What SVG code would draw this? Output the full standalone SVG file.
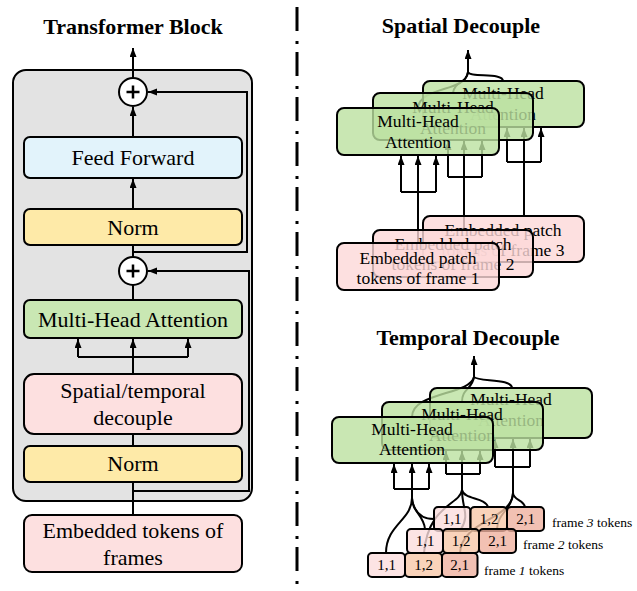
<svg xmlns="http://www.w3.org/2000/svg" width="637" height="591" viewBox="0 0 637 591">
<defs>
<marker id="ah" markerUnits="userSpaceOnUse" markerWidth="10" markerHeight="8" refX="9" refY="3.5" orient="auto">
<path d="M0,0 L9,3.5 L0,7 z" fill="#000"/>
</marker>
<style>
text{font-family:"Liberation Serif","Times New Roman",serif;fill:#000;text-anchor:middle}
.title{font-size:22px;font-weight:bold}
.lt{font-size:22px}
.rt{font-size:17.5px}
.ct{font-size:15px}
.fl{font-size:13.5px;text-anchor:start}
.box{stroke:#000;stroke-width:2}
.blue{fill:#e2f3fb}
.yel{fill:#feeaa8}
.grn{fill:#c9e7b3}
.pnk{fill:#fde0e0}
.tgrn{fill:#bce1a0;fill-opacity:0.8}
.tpnk{fill:#fcd8d8;fill-opacity:0.8}
.c11{fill:#fbdddd;fill-opacity:0.8}
.c12{fill:#f8c8a9;fill-opacity:0.8}
.c21{fill:#efb2a0;fill-opacity:0.8}
.ln{fill:none;stroke:#000;stroke-width:2}
.arr{fill:none;stroke:#000;stroke-width:2;marker-end:url(#ah)}
</style>
</defs>
<rect width="637" height="591" fill="#fff"/>

<g id="titles">
<text class="title" x="133" y="34">Transformer Block</text>
<text class="title" x="461" y="33">Spatial Decouple</text>
<text class="title" x="468" y="345">Temporal Decouple</text>
</g>

<g id="divider">
<line x1="297" y1="7" x2="297" y2="586" stroke="#000" stroke-width="3" stroke-dasharray="24 10 3 8"/>
</g>

<g id="transformer-block">
<rect x="13" y="70" width="239" height="431" rx="13" fill="#e3e3e3" stroke="#000" stroke-width="2"/>
</g>

<g id="connectors">
<!-- left panel -->
<path class="arr" d="M133,78 V48"/>
<path class="arr" d="M133,137 V107"/>
<path class="arr" d="M133,209 V179"/>
<path class="ln" d="M133,257 V245"/>
<path class="arr" d="M133,252 H247 V92 H148"/>
<path class="ln" d="M133,300 V285"/>
<path class="arr" d="M133,491 H249 V271 H148"/>
<path class="ln" d="M78,357 H188"/>
<path class="arr" d="M78,357 V339"/>
<path class="arr" d="M133,374 V339"/>
<path class="arr" d="M188,357 V339"/>
<path class="ln" d="M133,434 V446"/>
<path class="ln" d="M133,482 V515"/>

<!-- spatial decouple -->
<path class="arr" d="M468,72 V50"/>
<path class="ln" d="M418,108 C420,86 466,92 468,72"/>
<path class="ln" d="M453,93 C455,80 466,85 468,72"/>
<path class="ln" d="M503,81 C503,72 470,78 468,72"/>
<path class="ln" d="M401,192 H436"/>
<path class="arr" d="M401,192 V156"/>
<path class="arr" d="M418,243 V156"/>
<path class="arr" d="M436,192 V156"/>
<path class="ln" d="M448,177 H482"/>
<path class="arr" d="M448,177 V141"/>
<path class="arr" d="M464,230 V141"/>
<path class="arr" d="M482,177 V141"/>
<path class="ln" d="M507,162 H541"/>
<path class="arr" d="M507,162 V128"/>
<path class="arr" d="M524,216 V128"/>
<path class="arr" d="M541,162 V128"/>

<!-- temporal decouple -->
<path class="arr" d="M474,377 V356"/>
<path class="ln" d="M412,417 C412,392 470,395 474,377"/>
<path class="ln" d="M462,402 C462,388 472,390 474,377"/>
<path class="ln" d="M512,388 C512,378 478,382 474,377"/>
<path class="ln" d="M394,489 H429"/>
<path class="arr" d="M394,489 V464"/>
<path class="arr" d="M412,498 V464"/>
<path class="arr" d="M429,489 V464"/>
<path class="ln" d="M446,474 H480"/>
<path class="arr" d="M446,474 V451"/>
<path class="arr" d="M462,490 V451"/>
<path class="arr" d="M480,474 V451"/>
<path class="ln" d="M495,467 H530"/>
<path class="arr" d="M495,467 V439"/>
<path class="arr" d="M513,493 V439"/>
<path class="arr" d="M530,467 V439"/>
<!-- token links -->
<path class="ln" d="M412,498 C412,520 386,525 386,553"/>
<path class="ln" d="M412,498 C412,512 424,515 425,529"/>
<path class="ln" d="M412,498 C414,515 425,519 434,519"/>
<path class="ln" d="M462,490 C460,505 428,505 424,553"/>
<path class="ln" d="M462,490 C462,508 470,515 461,529"/>
<path class="ln" d="M462,490 C464,500 485,497 488,507"/>
<path class="ln" d="M513,493 C513,500 524,500 525,507"/>
<path class="ln" d="M513,493 C512,510 498,512 497,529"/>
<path class="ln" d="M513,493 C512,520 462,520 460,553"/>
</g>

<!-- left panel nodes -->
<g id="add-top">
<circle cx="133" cy="92" r="14" fill="#fff" stroke="#000" stroke-width="2"/>
<path d="M126.5,92 H139.5 M133,85.5 V98.5" stroke="#000" stroke-width="2.5"/>
</g>
<g id="feed-forward">
<rect class="box blue" x="24" y="137" width="218" height="41" rx="6"/>
<text class="lt" x="133" y="165">Feed Forward</text>
</g>
<g id="norm-top">
<rect class="box yel" x="24" y="209" width="218" height="36" rx="6"/>
<text class="lt" x="133" y="235">Norm</text>
</g>
<g id="add-mid">
<circle cx="133" cy="271" r="14" fill="#fff" stroke="#000" stroke-width="2"/>
<path d="M126.5,271 H139.5 M133,264.5 V277.5" stroke="#000" stroke-width="2.5"/>
</g>
<g id="mha-left">
<rect class="box grn" x="24" y="300" width="218" height="38" rx="6"/>
<text class="lt" x="133" y="327">Multi-Head Attention</text>
</g>
<g id="decouple">
<rect class="box pnk" x="24" y="374" width="218" height="60" rx="10"/>
<text class="lt" x="133" y="398">Spatial/temporal</text>
<text class="lt" x="133" y="425">decouple</text>
</g>
<g id="norm-bottom">
<rect class="box yel" x="24" y="446" width="218" height="36" rx="6"/>
<text class="lt" x="133" y="471">Norm</text>
</g>
<g id="embedded-tokens">
<rect class="box pnk" x="24" y="515" width="218" height="57" rx="8"/>
<text class="lt" x="133" y="538">Embedded tokens of</text>
<text class="lt" x="133" y="565">frames</text>
</g>

<!-- spatial decouple nodes -->
<g id="s-mha-3">
<rect class="box tgrn" x="423" y="81" width="161" height="46" rx="7"/>
<text class="rt" x="503" y="99">Multi-Head</text>
<text class="rt" x="503" y="120">Attention</text>
</g>
<g id="s-mha-2">
<rect class="box tgrn" x="373" y="93" width="160" height="47" rx="7"/>
<text class="rt" x="453" y="113">Multi-Head</text>
<text class="rt" x="453" y="134">Attention</text>
</g>
<g id="s-mha-1">
<rect class="box tgrn" x="337" y="108" width="162" height="47" rx="7"/>
<text class="rt" x="418" y="127">Multi-Head</text>
<text class="rt" x="418" y="148">Attention</text>
</g>
<g id="s-patch-3">
<rect class="box tpnk" x="423" y="216" width="161" height="46" rx="7"/>
<text class="rt" x="503" y="236">Embedded patch</text>
<text class="rt" x="503" y="256">tokens of frame 3</text>
</g>
<g id="s-patch-2">
<rect class="box tpnk" x="373" y="230" width="160" height="47" rx="7"/>
<text class="rt" x="453" y="250">Embedded patch</text>
<text class="rt" x="453" y="270">tokens of frame 2</text>
</g>
<g id="s-patch-1">
<rect class="box tpnk" x="337" y="243" width="162" height="47" rx="7"/>
<text class="rt" x="418" y="264">Embedded patch</text>
<text class="rt" x="418" y="284">tokens of frame 1</text>
</g>

<!-- temporal decouple nodes -->
<g id="t-mha-3">
<rect class="box tgrn" x="430" y="388" width="162" height="50" rx="7"/>
<text class="rt" x="511" y="405">Multi-Head</text>
<text class="rt" x="511" y="426">Attention</text>
</g>
<g id="t-mha-2">
<rect class="box tgrn" x="382" y="402" width="161" height="48" rx="7"/>
<text class="rt" x="462" y="420">Multi-Head</text>
<text class="rt" x="462" y="441">Attention</text>
</g>
<g id="t-mha-1">
<rect class="box tgrn" x="332" y="417" width="161" height="46" rx="7"/>
<text class="rt" x="412" y="435">Multi-Head</text>
<text class="rt" x="412" y="455">Attention</text>
</g>

<g id="frame3-tokens">
<rect class="box c11" x="434" y="507" width="36.5" height="24" rx="4"/>
<rect class="box c12" x="470.5" y="507" width="36.5" height="24" rx="4"/>
<rect class="box c21" x="507" y="507" width="37" height="24" rx="4"/>
<text class="ct" x="452" y="524">1,1</text>
<text class="ct" x="489" y="524">1,2</text>
<text class="ct" x="525.5" y="524">2,1</text>
<text class="fl" x="552" y="527">frame <tspan font-style="italic">3</tspan> tokens</text>
</g>
<g id="frame2-tokens">
<rect class="box c11" x="407" y="529" width="36" height="24" rx="4"/>
<rect class="box c12" x="443" y="529" width="36" height="24" rx="4"/>
<rect class="box c21" x="479" y="529" width="37" height="24" rx="4"/>
<text class="ct" x="425" y="546">1,1</text>
<text class="ct" x="461" y="546">1,2</text>
<text class="ct" x="497.5" y="546">2,1</text>
<text class="fl" x="523" y="549">frame <tspan font-style="italic">2</tspan> tokens</text>
</g>
<g id="frame1-tokens">
<rect class="box c11" x="368" y="553" width="37" height="24" rx="4"/>
<rect class="box c12" x="405" y="553" width="37" height="24" rx="4"/>
<rect class="box c21" x="442" y="553" width="35.5" height="24" rx="4"/>
<text class="ct" x="386.5" y="570">1,1</text>
<text class="ct" x="423.5" y="570">1,2</text>
<text class="ct" x="459.5" y="570">2,1</text>
<text class="fl" x="484" y="575">frame <tspan font-style="italic">1</tspan> tokens</text>
</g>
</svg>
